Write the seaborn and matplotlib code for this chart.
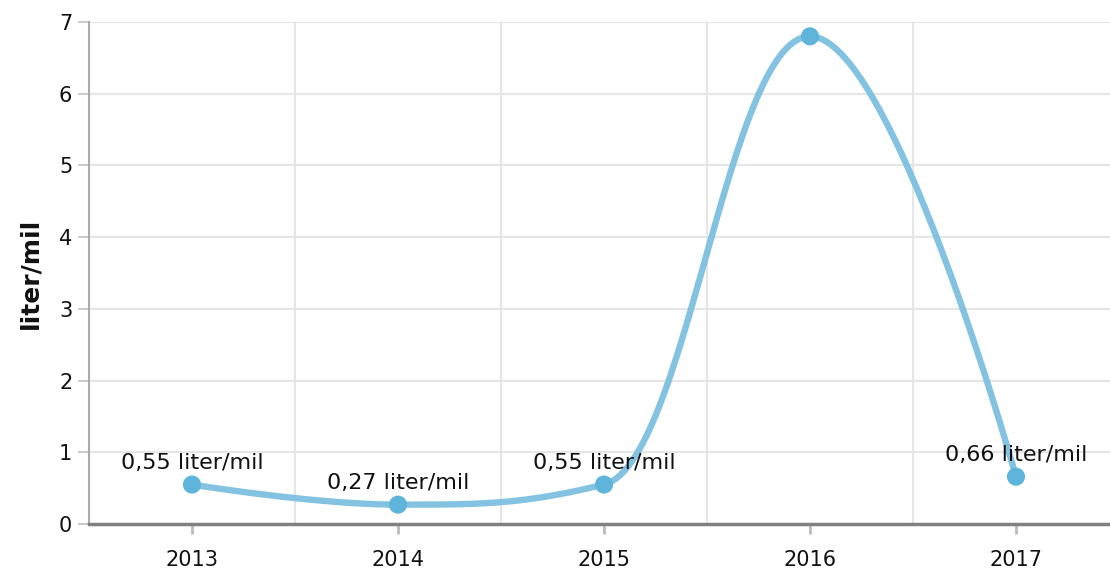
import numpy as np
import pandas as pd
import matplotlib
matplotlib.use("Agg")
import matplotlib.pyplot as plt
import seaborn as sns

# chart data
years = ["2013", "2014", "2015", "2016", "2017"]
values = [0.55, 0.27, 0.55, 6.8, 0.66]
labels = ["0,55 liter/mil", "0,27 liter/mil", "0,55 liter/mil", "", "0,66 liter/mil"]
y_ticks = [0, 1, 2, 3, 4, 5, 6, 7]

LINE_COLOR = "#7cc0e0"
MARKER_COLOR = "#5fb4dc"
GRID_COLOR = "#e6e6e6"


def spline_path(px, py, smoothing=1.5, steps=60):
    """Highcharts style spline through points given in display coords."""
    n = len(px)
    lcx, lcy = list(px), list(py)
    rcx, rcy = list(px), list(py)
    denom = smoothing + 1
    for i in range(1, n - 1):
        x, y = px[i], py[i]
        lx, ly = px[i - 1], py[i - 1]
        nx, ny = px[i + 1], py[i + 1]
        l_x = (smoothing * x + lx) / denom
        l_y = (smoothing * y + ly) / denom
        r_x = (smoothing * x + nx) / denom
        r_y = (smoothing * y + ny) / denom
        if r_x != l_x:
            corr = (r_y - l_y) * (r_x - x) / (r_x - l_x) + y - r_y
            l_y += corr
            r_y += corr
            if l_y > ly and l_y > y:
                l_y = max(ly, y)
                r_y = 2 * y - l_y
            elif l_y < ly and l_y < y:
                l_y = min(ly, y)
                r_y = 2 * y - l_y
            if r_y > ny and r_y > y:
                r_y = max(ny, y)
                l_y = 2 * y - r_y
            elif r_y < ny and r_y < y:
                r_y = min(ny, y)
                l_y = 2 * y - r_y
        lcx[i], lcy[i], rcx[i], rcy[i] = l_x, l_y, r_x, r_y
    t = np.linspace(0, 1, steps)[:, None]
    out = []
    for i in range(1, n):
        p0 = np.array([px[i - 1], py[i - 1]])
        p1 = np.array([rcx[i - 1], rcy[i - 1]])
        p2 = np.array([lcx[i], lcy[i]])
        p3 = np.array([px[i], py[i]])
        seg = ((1 - t) ** 3) * p0 + 3 * ((1 - t) ** 2) * t * p1 + 3 * (1 - t) * t ** 2 * p2 + t ** 3 * p3
        out.append(seg if i == 1 else seg[1:])
    return np.vstack(out)


sns.set_theme(style="white")
plt.rcParams['font.family'] = ['DejaVu Sans']

fig = plt.figure(figsize=(11.1, 5.74), dpi=100)
ax = fig.add_axes([89 / 1110, 50 / 574, 1030 / 1110, 502 / 574])

xpos = np.arange(len(years))
ax.set_xlim(-0.5, len(years) - 0.5)
ax.set_ylim(0, 7)

# smooth line computed in screen space, like the original renderer
disp = ax.transData.transform(np.column_stack([xpos, values]))
curve = ax.transData.inverted().transform(spline_path(disp[:, 0], disp[:, 1]))
curve_df = pd.DataFrame({"x": curve[:, 0], "y": curve[:, 1]})
sns.lineplot(data=curve_df, x="x", y="y", ax=ax, color=LINE_COLOR, linewidth=4.6,
             alpha=0.95, sort=False, estimator=None, zorder=3)

pts = pd.DataFrame({"x": xpos, "y": values})
sns.scatterplot(data=pts, x="x", y="y", ax=ax, color=MARKER_COLOR, s=170,
                edgecolor="none", zorder=4, clip_on=False)

for x, v, lab in zip(xpos, values, labels):
    if lab:
        ax.annotate(lab, (x, v), xytext=(0, 11), textcoords="offset points",
                    ha="center", va="baseline", fontsize=16, color="#111111", zorder=5)

# grid: horizontal at each tick, vertical at category boundaries
for yv in y_ticks[1:]:
    ax.axhline(yv, color=GRID_COLOR, linewidth=1.5, zorder=1)
for b in np.arange(0.5, len(years) - 0.5, 1):
    ax.axvline(b, color=GRID_COLOR, linewidth=1.5, zorder=1)

ax.set_xticks(xpos)
ax.set_xticklabels(years, fontsize=15, color="#111111")
ax.set_yticks(y_ticks)
ax.set_yticklabels([str(v) for v in y_ticks], fontsize=15, color="#111111")
ax.tick_params(axis="x", length=7, width=2, color="#bbbbbb", pad=12, bottom=True)
ax.tick_params(axis="y", length=8, width=1.5, color="#cccccc", pad=4, left=True)

ax.set_xlabel("")
ax.set_ylabel("liter/mil", fontsize=18, fontweight="bold", color="#111111", labelpad=12)

for side in ["top", "right"]:
    ax.spines[side].set_visible(False)
ax.spines["left"].set_color("#aaaaaa")
ax.spines["left"].set_linewidth(1.5)
ax.spines["bottom"].set_color("#808080")
ax.spines["bottom"].set_linewidth(2.5)
ax.spines["left"].set_zorder(2)

fig.savefig("out.png", dpi=100)
